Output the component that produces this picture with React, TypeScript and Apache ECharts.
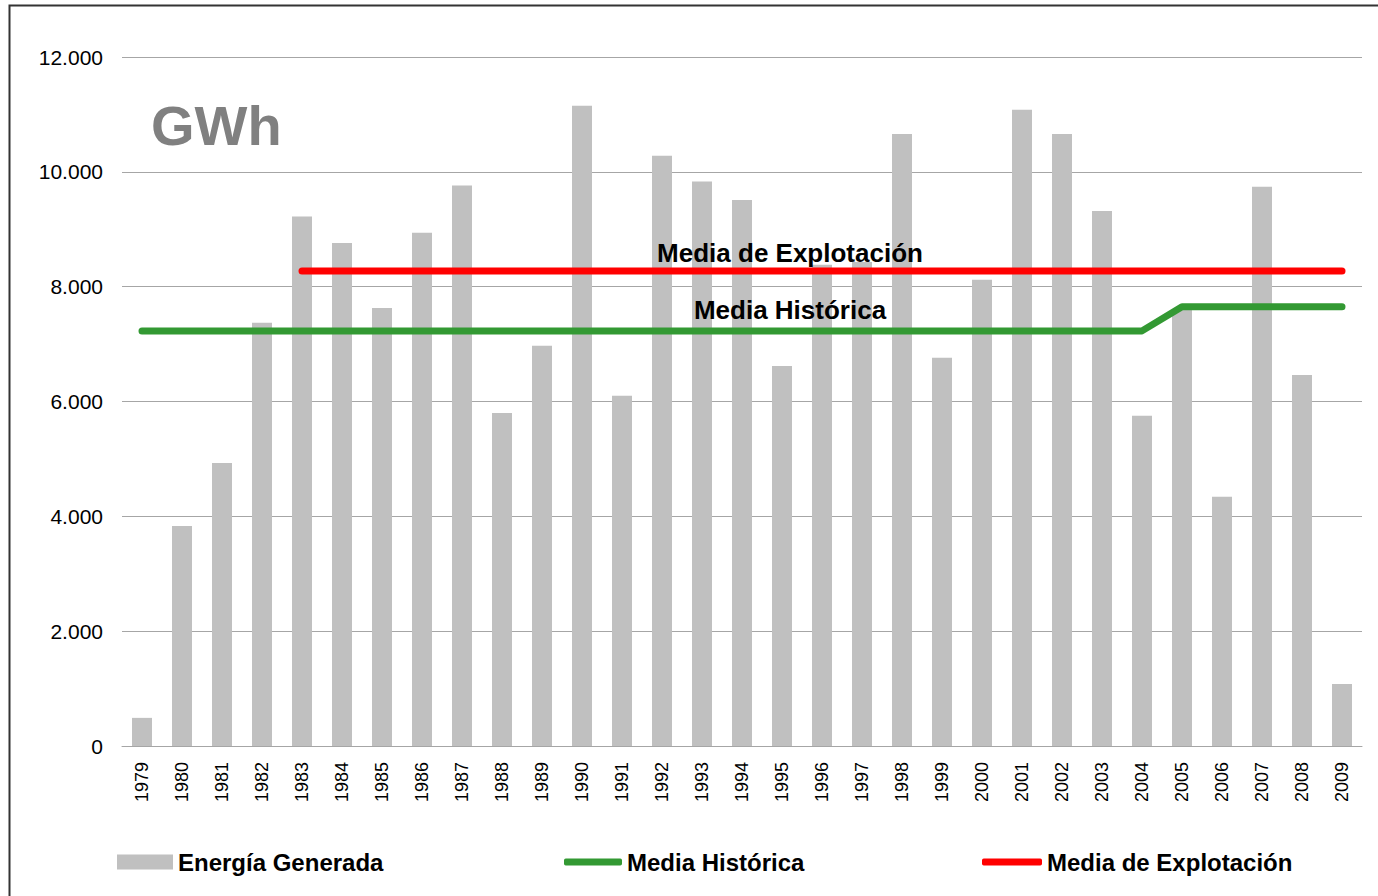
import React, { useEffect, useRef } from "react";
import * as echarts from "echarts";

const years = [
  "1979", "1980", "1981", "1982", "1983", "1984", "1985", "1986", "1987", "1988",
  "1989", "1990", "1991", "1992", "1993", "1994", "1995", "1996", "1997", "1998",
  "1999", "2000", "2001", "2002", "2003", "2004", "2005", "2006", "2007", "2008", "2009",
];

const energiaGenerada = [
  490, 3830, 4930, 7370, 9220, 8760, 7630, 8940, 9760, 5800,
  6970, 11150, 6100, 10280, 9830, 9510, 6620, 8380, 8430, 10660,
  6760, 8120, 11080, 10660, 9320, 5750, 7600, 4340, 9740, 6460, 1080,
];

const mediaHistorica = [
  7230, 7230, 7230, 7230, 7230, 7230, 7230, 7230, 7230, 7230,
  7230, 7230, 7230, 7230, 7230, 7230, 7230, 7230, 7230, 7230,
  7230, 7230, 7230, 7230, 7230, 7230, 7650, 7650, 7650, 7650, 7650,
];

const mediaExplotacion = [
  null, null, null, null, 8275, 8275, 8275, 8275, 8275, 8275,
  8275, 8275, 8275, 8275, 8275, 8275, 8275, 8275, 8275, 8275,
  8275, 8275, 8275, 8275, 8275, 8275, 8275, 8275, 8275, 8275, 8275,
];

const yTicks = { min: 0, max: 12000, interval: 2000 };

const NARROW = "'Liberation Sans Narrow', 'Arial Narrow', 'Liberation Sans', Arial, sans-serif";
const BOLD = "'Liberation Sans', Arial, sans-serif";

export default function App() {
  const ref = useRef<HTMLDivElement>(null);

  useEffect(() => {
    if (!ref.current) return;
    const chart = echarts.init(ref.current, undefined, { renderer: "svg" });

    const legendText = { fontFamily: BOLD, fontWeight: "bold", fontSize: 24, color: "#000" };

    chart.setOption({
      animation: false,
      backgroundColor: "#fff",
      grid: { left: 122, right: 16, top: 57, bottom: 150, containLabel: false },
      xAxis: {
        type: "category",
        data: years,
        axisLine: { show: true, lineStyle: { color: "#a6a6a6", width: 1 } },
        axisTick: { show: false },
        axisLabel: {
          rotate: 90,
          interval: 0,
          margin: 16,
          fontFamily: NARROW,
          fontSize: 18,
          color: "#000",
        },
      },
      yAxis: {
        type: "value",
        min: yTicks.min,
        max: yTicks.max,
        interval: yTicks.interval,
        axisLine: { show: false },
        axisTick: { show: false },
        splitLine: { lineStyle: { color: "#a6a6a6", width: 1 } },
        axisLabel: {
          margin: 19,
          fontFamily: NARROW,
          fontSize: 21,
          color: "#000",
          formatter: (v: number) => v.toLocaleString("de-DE"),
        },
      },
      legend: [
        {
          data: [{ name: "Energía Generada", icon: "rect" }],
          left: 112,
          top: 845,
          itemWidth: 56,
          itemHeight: 15,
          textStyle: legendText,
        },
        {
          data: [{ name: "Media Histórica", icon: "roundRect" }],
          left: 559,
          top: 845,
          itemWidth: 58,
          itemHeight: 7,
          textStyle: legendText,
        },
        {
          data: [{ name: "Media de Explotación", icon: "roundRect" }],
          left: 977,
          top: 845,
          itemWidth: 60,
          itemHeight: 7,
          textStyle: legendText,
        },
      ],
      series: [
        {
          name: "Energía Generada",
          type: "bar",
          data: energiaGenerada,
          barCategoryGap: "50%",
          itemStyle: { color: "#c0c0c0" },
          z: 1,
        },
        {
          name: "Media Histórica",
          type: "line",
          data: mediaHistorica,
          symbol: "none",
          showSymbol: false,
          color: "#339933",
          itemStyle: { color: "#339933" },
          lineStyle: { color: "#339933", width: 7, cap: "round", join: "round" },
          z: 3,
        },
        {
          name: "Media de Explotación",
          type: "line",
          data: mediaExplotacion,
          symbol: "none",
          showSymbol: false,
          color: "#ff0000",
          itemStyle: { color: "#ff0000" },
          lineStyle: { color: "#ff0000", width: 7, cap: "round", join: "round" },
          z: 3,
        },
      ],
      graphic: [
        {
          type: "rect",
          shape: { x: 9.5, y: 5.5, width: 1400, height: 1000 },
          style: { fill: "none", stroke: "#333", lineWidth: 2 },
          silent: true,
        },
        {
          type: "text",
          left: 151,
          top: 97,
          style: { text: "GWh", fontFamily: BOLD, fontWeight: "bold", fontSize: 56, fill: "#808080" },
        },
        {
          type: "text",
          x: 790,
          y: 253,
          z: 10,
          style: {
            text: "Media de Explotación",
            fontFamily: BOLD,
            fontWeight: "bold",
            fontSize: 26,
            fill: "#000",
            align: "center",
            verticalAlign: "middle",
          },
        },
        {
          type: "text",
          x: 790,
          y: 310,
          z: 10,
          style: {
            text: "Media Histórica",
            fontFamily: BOLD,
            fontWeight: "bold",
            fontSize: 26,
            fill: "#000",
            align: "center",
            verticalAlign: "middle",
          },
        },
      ],
    });

    return () => chart.dispose();
  }, []);

  return <div ref={ref} style={{ width: 1378, height: 896, position: "absolute", left: 0, top: 0 }} />;
}
